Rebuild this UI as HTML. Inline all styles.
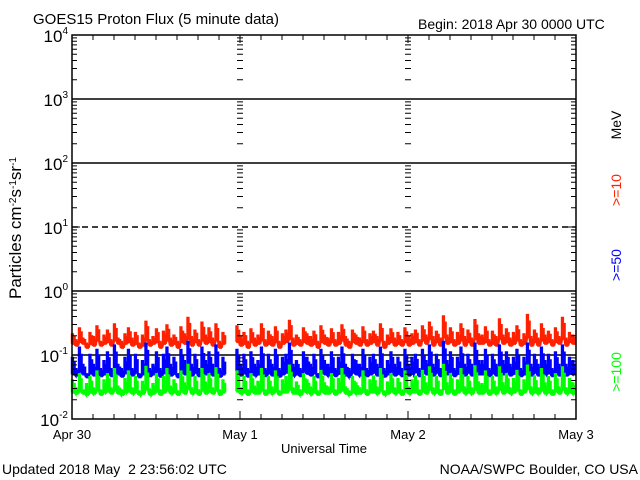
<!DOCTYPE html>
<html><head><meta charset="utf-8"><style>
html,body{margin:0;padding:0;background:#fff;}
svg{display:block;font-family:"Liberation Sans",sans-serif;}
text{white-space:pre;}
</style></head><body>
<svg id="chart" width="640" height="480" viewBox="0 0 640 480" xmlns="http://www.w3.org/2000/svg">
<rect width="640" height="480" fill="#fff"/>
<text x="33" y="24" font-size="15">GOES15 Proton Flux (5 minute data)</text>
<text x="418" y="29" font-size="14">Begin: 2018 Apr 30 0000 UTC</text>
<g id="grid"></g>
<g id="series"></g>
<g id="axes"></g>
<text x="324" y="453" font-size="13" text-anchor="middle">Universal Time</text>
<text x="2" y="474" font-size="14" xml:space="preserve">Updated 2018 May  2 23:56:02 UTC</text>
<text x="638" y="474" font-size="14" text-anchor="end">NOAA/SWPC Boulder, CO USA</text>
<text transform="translate(21,228) rotate(-90)" font-size="17" text-anchor="middle">Particles cm<tspan baseline-shift="super" font-size="10">-2</tspan>s<tspan baseline-shift="super" font-size="10">-1</tspan>sr<tspan baseline-shift="super" font-size="10">-1</tspan></text>
<text transform="translate(621,125) rotate(-90)" font-size="14" text-anchor="middle">MeV</text>
<text fill="#ff2000" transform="translate(621,190) rotate(-90)" font-size="14" text-anchor="middle">&gt;=10</text>
<text fill="#0000ff" transform="translate(621,265) rotate(-90)" font-size="14" text-anchor="middle">&gt;=50</text>
<text fill="#00ff00" transform="translate(621,372) rotate(-90)" font-size="14" text-anchor="middle">&gt;=100</text>
</svg>
<script>
const dayLabels = ["Apr 30","May 1","May 2","May 3"];
const yDecades = [-2,-1,0,1,2,3,4];
const dashedDecades = [1];
const hoursPerPoint = 0.5;
// per-30-minute bin highs
const red = [0.21,0.17,0.26,0.18,0.15,0.22,0.19,0.28,0.16,0.2,0.24,0.17,0.3,0.18,0.16,0.21,0.26,0.18,0.22,0.15,0.2,0.33,0.17,0.19,0.25,0.16,0.23,0.29,0.18,0.2,0.16,0.27,0.21,0.38,0.19,0.24,0.17,0.32,0.2,0.26,0.18,0.3,0.16,0.22,null,null,null,0.28,0.19,0.22,0.16,0.25,0.18,0.2,0.3,0.17,0.23,0.19,0.27,0.16,0.21,0.24,0.34,0.18,0.2,0.17,0.26,0.21,0.19,0.23,0.16,0.28,0.2,0.18,0.25,0.17,0.22,0.29,0.19,0.16,0.24,0.2,0.18,0.27,0.17,0.21,0.23,0.19,0.3,0.16,0.2,0.25,0.18,0.22,0.17,0.26,0.19,0.21,0.24,0.17,0.28,0.2,0.32,0.19,0.23,0.18,0.4,0.2,0.26,0.17,0.22,0.3,0.19,0.24,0.18,0.35,0.21,0.2,0.27,0.17,0.23,0.19,0.36,0.2,0.25,0.18,0.22,0.28,0.17,0.21,0.42,0.19,0.24,0.18,0.3,0.2,0.23,0.17,0.26,0.19,0.38,0.18,0.22,0.2];
const blue = [0.09,0.06,0.13,0.07,0.05,0.1,0.07,0.12,0.06,0.08,0.11,0.06,0.14,0.07,0.06,0.09,0.12,0.06,0.1,0.05,0.08,0.15,0.06,0.07,0.11,0.06,0.1,0.13,0.07,0.09,0.05,0.12,0.08,0.16,0.07,0.1,0.06,0.13,0.08,0.11,0.07,0.14,0.06,0.09,null,null,null,0.12,0.07,0.1,0.06,0.11,0.07,0.08,0.13,0.06,0.1,0.07,0.12,0.06,0.09,0.1,0.15,0.07,0.08,0.06,0.11,0.09,0.07,0.1,0.05,0.12,0.08,0.07,0.11,0.06,0.09,0.13,0.07,0.06,0.1,0.08,0.07,0.12,0.06,0.09,0.1,0.07,0.13,0.06,0.08,0.11,0.07,0.09,0.06,0.12,0.07,0.09,0.1,0.06,0.12,0.08,0.14,0.07,0.1,0.06,0.16,0.08,0.11,0.06,0.09,0.13,0.07,0.1,0.07,0.15,0.08,0.08,0.12,0.06,0.1,0.07,0.14,0.08,0.11,0.07,0.09,0.12,0.06,0.09,0.15,0.07,0.1,0.07,0.13,0.08,0.1,0.06,0.11,0.07,0.14,0.07,0.09,0.08];
const green = [0.04,0.03,0.05,0.028,0.035,0.045,0.03,0.055,0.028,0.04,0.05,0.03,0.06,0.032,0.028,0.042,0.055,0.03,0.045,0.027,0.038,0.065,0.029,0.035,0.05,0.028,0.045,0.06,0.032,0.04,0.027,0.055,0.036,0.07,0.03,0.045,0.028,0.06,0.037,0.05,0.03,0.062,0.028,0.04,null,null,null,0.055,0.03,0.045,0.028,0.05,0.032,0.038,0.06,0.028,0.045,0.031,0.055,0.027,0.04,0.045,0.068,0.03,0.037,0.028,0.05,0.04,0.031,0.045,0.027,0.056,0.036,0.031,0.05,0.028,0.042,0.06,0.031,0.027,0.045,0.036,0.03,0.055,0.028,0.04,0.046,0.031,0.06,0.027,0.037,0.05,0.03,0.042,0.028,0.055,0.031,0.04,0.046,0.028,0.056,0.036,0.064,0.03,0.045,0.028,0.07,0.036,0.05,0.028,0.04,0.06,0.031,0.045,0.03,0.066,0.037,0.035,0.055,0.028,0.045,0.031,0.064,0.036,0.05,0.03,0.042,0.056,0.028,0.04,0.068,0.031,0.046,0.03,0.06,0.036,0.045,0.028,0.05,0.031,0.064,0.03,0.042,0.036];
// per-30-minute bin lows
const redLow = [0.15,0.14,0.16,0.15,0.13,0.15,0.14,0.17,0.14,0.15,0.16,0.14,0.17,0.15,0.13,0.15,0.16,0.14,0.15,0.13,0.14,0.17,0.14,0.15,0.16,0.13,0.15,0.17,0.14,0.15,0.13,0.16,0.15,0.18,0.14,0.16,0.14,0.17,0.15,0.16,0.14,0.17,0.13,0.15,null,null,null,0.16,0.14,0.15,0.13,0.16,0.14,0.15,0.17,0.14,0.15,0.14,0.16,0.13,0.15,0.16,0.18,0.14,0.15,0.14,0.16,0.15,0.14,0.15,0.13,0.16,0.15,0.14,0.16,0.14,0.15,0.17,0.14,0.13,0.16,0.15,0.14,0.16,0.14,0.15,0.16,0.14,0.17,0.13,0.15,0.16,0.14,0.15,0.14,0.16,0.14,0.15,0.16,0.14,0.17,0.15,0.18,0.14,0.16,0.14,0.19,0.15,0.16,0.14,0.15,0.17,0.14,0.16,0.14,0.18,0.15,0.15,0.16,0.14,0.15,0.14,0.18,0.15,0.16,0.14,0.15,0.17,0.14,0.15,0.19,0.14,0.16,0.14,0.17,0.15,0.16,0.14,0.16,0.15,0.18,0.14,0.16,0.15];
const blueLow = [0.05,0.048,0.055,0.05,0.045,0.052,0.048,0.058,0.047,0.05,0.054,0.047,0.06,0.05,0.046,0.052,0.056,0.048,0.053,0.045,0.05,0.062,0.047,0.05,0.055,0.046,0.052,0.058,0.048,0.051,0.045,0.056,0.05,0.065,0.048,0.053,0.047,0.06,0.05,0.055,0.048,0.06,0.046,0.05,null,null,null,0.056,0.048,0.052,0.046,0.054,0.048,0.05,0.058,0.047,0.052,0.048,0.056,0.046,0.05,0.053,0.062,0.048,0.05,0.047,0.055,0.051,0.048,0.052,0.045,0.056,0.05,0.048,0.054,0.047,0.051,0.058,0.048,0.046,0.053,0.05,0.048,0.056,0.047,0.05,0.053,0.048,0.058,0.046,0.05,0.055,0.048,0.051,0.047,0.056,0.048,0.051,0.054,0.047,0.057,0.05,0.06,0.048,0.053,0.047,0.064,0.05,0.055,0.047,0.051,0.058,0.048,0.053,0.048,0.062,0.05,0.05,0.056,0.047,0.052,0.048,0.06,0.05,0.055,0.048,0.051,0.056,0.047,0.05,0.063,0.048,0.053,0.048,0.058,0.05,0.052,0.047,0.054,0.048,0.06,0.048,0.051,0.05];
const greenLow = [0.026,0.025,0.027,0.025,0.024,0.026,0.025,0.028,0.024,0.026,0.027,0.025,0.028,0.025,0.024,0.026,0.027,0.025,0.026,0.024,0.025,0.029,0.024,0.025,0.027,0.024,0.026,0.028,0.025,0.026,0.024,0.027,0.025,0.03,0.025,0.026,0.024,0.028,0.025,0.027,0.025,0.028,0.024,0.026,null,null,null,0.027,0.025,0.026,0.024,0.027,0.025,0.025,0.028,0.024,0.026,0.025,0.027,0.024,0.026,0.026,0.029,0.025,0.025,0.024,0.027,0.026,0.025,0.026,0.024,0.027,0.025,0.025,0.027,0.024,0.026,0.028,0.025,0.024,0.026,0.025,0.025,0.027,0.024,0.026,0.026,0.025,0.028,0.024,0.025,0.027,0.025,0.026,0.024,0.027,0.025,0.026,0.026,0.024,0.027,0.025,0.029,0.025,0.026,0.024,0.03,0.025,0.027,0.024,0.026,0.028,0.025,0.026,0.025,0.029,0.025,0.025,0.027,0.024,0.026,0.025,0.029,0.025,0.027,0.025,0.026,0.028,0.024,0.026,0.03,0.025,0.026,0.025,0.028,0.025,0.026,0.024,0.027,0.025,0.029,0.025,0.026,0.025];

const X0=72,X1=576,Y0=35,Y1=419;
const totalHours=72;
function xScale(h){return X0+(X1-X0)*h/totalHours;}
function yScale(v){const lo=yDecades[0],hi=yDecades[yDecades.length-1];return Y1-(Math.log10(v)-lo)/(hi-lo)*(Y1-Y0);}
const NS="http://www.w3.org/2000/svg";
function mk(tag,attrs,parent){const e=document.createElementNS(NS,tag);for(const k in attrs)e.setAttribute(k,attrs[k]);parent.appendChild(e);return e;}
const grid=document.getElementById('grid'),axes=document.getElementById('axes'),series=document.getElementById('series');

yDecades.slice(1,-1).forEach(d=>{
  const y=yScale(Math.pow(10,d));
  const l=mk('line',{x1:X0,x2:X1,y1:y,y2:y,stroke:'#000','stroke-width':1.5},grid);
  if(dashedDecades.includes(d))l.setAttribute('stroke-dasharray','6,4');
  
  
});
const tickPaths=[];
for(let i=0;i<yDecades.length-1;i++){
  for(let m=2;m<=9;m++){
    const y=yScale(m*Math.pow(10,yDecades[i]));
    tickPaths.push(`M${X0},${y}h5M${X1},${y}h-5`);
    for(let day=1;day<dayLabels.length-1;day++){const x=xScale(day*24);tickPaths.push(`M${x-3},${y}h6`);}
  }
  const y=yScale(Math.pow(10,yDecades[i]));
  tickPaths.push(`M${X0},${y}h8M${X1},${y}h-8`);
}
for(let h=0;h<=totalHours;h+=3){
  const x=xScale(h);const len=(h%24===0)?8:5;
  tickPaths.push(`M${x},${Y0}v${len}M${x},${Y1}v${-len}`);
}
const tp=mk('path',{d:tickPaths.join(''),stroke:'#000','stroke-width':1,fill:'none'},axes);


const frame=mk('rect',{x:X0,y:Y0,width:X1-X0,height:Y1-Y0,fill:'none',stroke:'#000','stroke-width':1.5},axes);


yDecades.forEach(d=>{
  const t=mk('text',{x:X0-4,y:yScale(Math.pow(10,d))+7,'font-size':17,'text-anchor':'end'},axes);
  t.innerHTML='10<tspan dy="-8" font-size="10">'+d+'</tspan>';
  
  
});
dayLabels.forEach((lab,i)=>{
  const t=mk('text',{x:xScale(i*24),y:439,'font-size':13,'text-anchor':'middle'},axes);
  t.textContent=lab;
  
  
});
function draw(highs,lows,color,name){
  let d='',pen=false;
  highs.forEach((v,i)=>{
    const lo=lows[i];
    if(v==null||lo==null){pen=false;return;}
    const h0=i*hoursPerPoint;
    const xa=xScale(h0),xb=xScale(h0+hoursPerPoint*0.25),xc=xScale(h0+hoursPerPoint*0.5),xd=xScale(h0+hoursPerPoint*0.75);
    const yh=yScale(v),yl=yScale(lo),ym=yScale(lo*Math.pow(v/lo,0.7));
    d+=(pen?'L':'M')+xa.toFixed(1)+','+yl.toFixed(1)+'L'+xa.toFixed(1)+','+yh.toFixed(1)+'L'+xb.toFixed(1)+','+yh.toFixed(1)+'L'+xb.toFixed(1)+','+yl.toFixed(1)+'L'+xc.toFixed(1)+','+yl.toFixed(1)+'L'+xc.toFixed(1)+','+ym.toFixed(1)+'L'+xd.toFixed(1)+','+ym.toFixed(1)+'L'+xd.toFixed(1)+','+yl.toFixed(1);
    pen=true;
  });
  const p=mk('path',{d:d,stroke:color,'stroke-width':2.4,fill:'none','stroke-linejoin':'miter'},series);
  
  
}
draw(red,redLow,'#ff2000','series-ge10mev');
draw(blue,blueLow,'#0000ff','series-ge50mev');
draw(green,greenLow,'#00ff00','series-ge100mev');
</script>
</body></html>
